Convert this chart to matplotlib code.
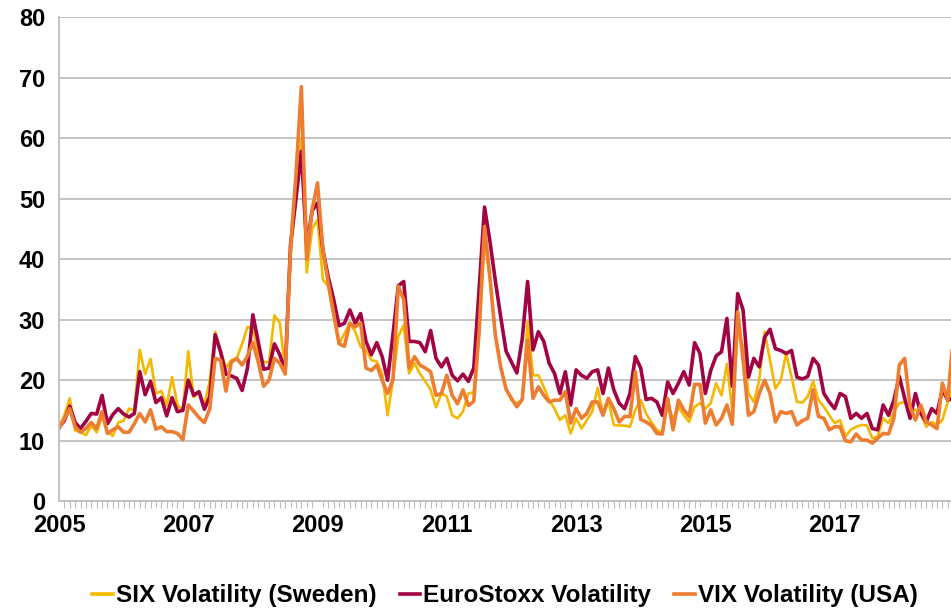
import numpy as np
import matplotlib.pyplot as plt

# monthly values, Jan 2005 onwards
six = [12.2, 14.2, 17.0, 11.7, 11.4, 10.9, 12.5, 11.4, 14.0, 11.5, 10.8, 13.0,
       13.3, 15.3, 15.0, 25.0, 21.0, 23.5, 17.8, 18.2, 15.8, 20.5, 15.9, 15.0,
       24.8, 17.2, 18.0, 15.9, 20.0, 28.0, 25.0, 22.0, 23.3, 23.6, 26.0, 28.8,
       28.5, 24.4, 23.0, 23.0, 30.7, 29.5, 21.5, 41.0, 50.0, 60.0, 37.8, 45.0,
       46.5, 36.6, 35.5, 30.5, 26.0, 27.7, 29.5, 28.0, 25.5, 25.0, 23.3, 23.1,
       21.1, 14.2, 20.0, 27.2, 29.1, 21.1, 22.8, 21.1, 19.8, 18.4, 15.5, 17.8,
       17.3, 14.2, 13.7, 14.8, 17.8, 18.0, 28.0, 43.0, 37.0, 27.7, 22.2, 18.6,
       16.7, 16.2, 16.7, 29.7, 20.8, 20.8, 18.9, 16.7, 15.3, 13.4, 14.2, 11.2,
       13.7, 12.0, 13.4, 14.8, 18.7, 14.5, 16.7, 12.6, 12.5, 12.5, 12.3, 15.1,
       16.7, 14.5, 13.0, 11.8, 11.2, 16.2, 13.5, 15.6, 14.2, 13.1, 15.6, 16.2,
       15.3, 16.2, 19.5, 17.5, 22.7, 15.0, 28.5, 25.5, 17.8, 16.4, 20.0, 28.0,
       23.3, 18.6, 20.0, 24.4, 20.5, 16.4, 16.3, 17.3, 19.8, 16.7, 15.6, 14.2,
       12.9, 13.4, 10.7, 11.8, 12.3, 12.6, 12.5, 10.4, 10.7, 13.7, 12.9, 14.8,
       16.2, 16.4, 14.8, 15.1, 14.5, 12.3, 13.1, 12.6, 13.4, 16.4, 19.0]

eurostoxx = [12.2, 13.3, 15.7, 13.0, 12.0, 13.2, 14.5, 14.4, 17.5, 12.8, 14.3, 15.3,
             14.4, 13.9, 14.5, 21.4, 17.6, 19.8, 16.3, 17.1, 14.1, 17.1, 14.8, 15.0,
             20.0, 17.5, 18.1, 15.2, 17.3, 27.5, 24.7, 21.0, 20.7, 20.3, 18.3, 22.0,
             30.8, 26.3, 21.8, 22.0, 26.0, 24.2, 21.5, 42.5, 50.0, 57.8, 42.0, 48.0,
             49.3, 41.5, 37.0, 33.3, 29.0, 29.4, 31.6, 29.4, 31.0, 26.4, 24.2, 26.2,
             23.9, 20.0, 27.5, 35.6, 36.3, 26.4, 26.4, 26.2, 24.7, 28.2, 23.6, 22.2,
             23.6, 20.8, 19.9, 21.0, 19.8, 22.0, 35.0, 48.6, 43.0, 36.5, 30.5, 24.8,
             23.0, 21.2, 26.8, 36.3, 25.0, 28.0, 26.4, 22.8, 21.1, 17.8, 21.4, 15.9,
             21.7, 20.8, 20.3, 21.4, 21.7, 17.8, 22.0, 18.4, 16.2, 15.3, 17.8, 23.9,
             22.0, 16.8, 17.0, 16.4, 14.2, 19.7, 17.8, 19.5, 21.4, 19.2, 26.2, 24.4,
             17.8, 21.6, 24.0, 24.7, 30.2, 19.0, 34.3, 31.6, 20.5, 23.6, 22.2, 27.1,
             28.4, 25.2, 24.9, 24.4, 24.9, 20.5, 20.2, 20.6, 23.6, 22.5, 17.8, 16.4,
             15.3, 17.8, 17.3, 13.7, 14.5, 13.7, 14.5, 12.0, 11.8, 15.9, 14.2, 16.7,
             20.6, 17.0, 13.7, 17.8, 14.5, 13.1, 15.3, 14.5, 18.4, 16.7, 17.0]

vix = [12.0, 13.6, 15.3, 12.3, 11.4, 12.0, 13.0, 12.0, 14.8, 11.2, 11.8, 12.3,
       11.4, 11.4, 12.8, 14.5, 13.1, 15.1, 11.9, 12.3, 11.5, 11.5, 11.2, 10.2,
       15.9, 14.9, 13.8, 13.0, 15.3, 23.6, 23.3, 18.2, 23.0, 23.6, 22.5, 24.0,
       26.2, 23.0, 19.0, 20.0, 23.6, 22.8, 21.0, 42.0, 54.0, 68.5, 40.0, 48.2,
       52.6, 41.5, 36.0, 31.0, 26.0, 25.6, 29.4, 28.8, 29.5, 22.0, 21.6, 22.5,
       20.0, 17.8, 20.0, 35.5, 33.3, 22.0, 23.9, 22.5, 22.0, 21.4, 17.5, 17.8,
       20.8, 17.5, 16.1, 18.4, 15.8, 16.5, 28.0, 45.4, 37.0, 27.5, 22.2, 18.5,
       17.0, 15.6, 16.8, 26.6, 17.0, 18.9, 17.5, 16.4, 16.7, 16.7, 18.1, 12.9,
       15.3, 13.7, 14.5, 16.4, 16.4, 14.2, 17.0, 15.3, 13.1, 14.0, 14.0, 21.4,
       13.5, 13.1, 12.5, 11.2, 11.1, 17.0, 11.8, 16.7, 15.1, 14.0, 19.3, 19.3,
       12.9, 15.1, 12.6, 13.7, 15.9, 12.7, 31.3, 23.3, 14.2, 14.8, 17.8, 20.0,
       17.8, 13.1, 14.8, 14.5, 14.8, 12.6, 13.3, 13.7, 18.4, 14.0, 13.7, 11.8,
       12.3, 12.3, 10.0, 9.8, 11.1, 10.1, 10.1, 9.6, 10.4, 11.2, 11.1, 13.7,
       22.5, 23.6, 15.6, 13.4, 15.9, 13.1, 12.6, 12.0, 19.5, 16.7, 27.0]

years = ['2005', '2007', '2009', '2011', '2013', '2015', '2017']
labels = ['SIX Volatility (Sweden)', 'EuroStoxx Volatility', 'VIX Volatility (USA)']

plt.rcParams['font.family'] = ['Liberation Sans', 'DejaVu Sans']

fig = plt.figure(figsize=(9.51, 6.09), dpi=100)
ax = fig.add_axes([0.062, 0.177, 0.938, 0.795])

x = np.arange(len(six))
ax.plot(x, six, color='#F5B800', lw=1.9, label=labels[0])
ax.plot(x, eurostoxx, color='#A10343', lw=2.6, label=labels[1])
ax.plot(x, vix, color='#ED7D31', lw=2.6, label=labels[2])

ax.set_ylim(0, 80)
ax.set_xlim(0, 165.6)
ax.set_yticks(np.arange(0, 81, 10))
ax.yaxis.grid(True, color='#BFBFBF', lw=1.3)
ax.set_axisbelow(True)

ax.set_xticks(np.arange(0, 24 * len(years), 24))
ax.set_xticklabels(years)
ax.set_xticks(np.arange(0, 166), minor=True)
ax.tick_params(axis='x', which='major', length=0, pad=9)
ax.tick_params(axis='x', which='minor', length=5, color='#BFBFBF', width=0.8)
ax.tick_params(axis='y', length=0, pad=10)
for lab in ax.get_xticklabels() + ax.get_yticklabels():
    lab.set_fontsize(17)
    lab.set_fontweight('bold')

for s in ['top', 'right']:
    ax.spines[s].set_visible(False)
ax.spines['left'].set_color('#BFBFBF')
ax.spines['bottom'].set_color('#BFBFBF')
ax.spines['left'].set_linewidth(1.3)
ax.spines['bottom'].set_linewidth(1.3)

leg = ax.legend(loc='center', bbox_to_anchor=(0.5, -0.195), ncol=3, frameon=False,
                prop={'size': 17.5, 'weight': 'bold'}, handlelength=0.85,
                handletextpad=0.12, columnspacing=0.95)
for h in leg.get_lines():
    h.set_linewidth(2.6)

fig.savefig('out.png', dpi=100)
